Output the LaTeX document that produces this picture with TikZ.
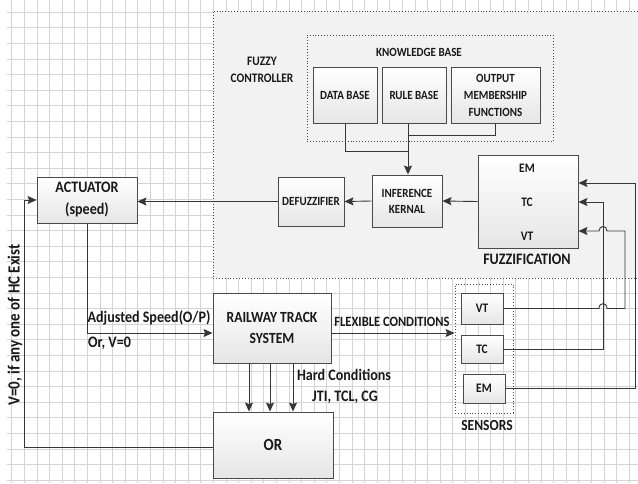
\documentclass[tikz,border=0pt]{standalone}
\usepackage{fontspec}
\setmainfont{Carlito}[FakeStretch=0.88]
\usetikzlibrary{arrows.meta}
\definecolor{ln}{HTML}{363636}
\definecolor{bd}{HTML}{4A4A4A}
\definecolor{grd}{HTML}{D4D4D4}
\begin{document}
\begin{tikzpicture}[x=1pt,y=-1pt,
  box/.style={draw=bd, line width=0.9pt, top color=white, bottom color=black!10, align=center, inner sep=1pt, text=black!90, font=\bfseries\fontsize{12.5}{16}\selectfont},
  dotbox/.style={draw=bd, dotted, line width=0.9pt, inner sep=0pt},
  lbl/.style={font=\bfseries\fontsize{16}{18}\selectfont, inner sep=0pt, text=black!90},
  lbls/.style={font=\bfseries\fontsize{13}{17}\selectfont, inner sep=0pt, align=center, text=black!90},
  conn/.style={draw=ln, line width=0.9pt},
  arr/.style={conn, -{Stealth[length=9pt,width=8pt,inset=1.5pt]}}]
\useasboundingbox (0,0) rectangle (638,483);
\fill[white] (0,0) rectangle (638,483);
% grid
\foreach \i in {0,...,50} {\draw[grd, line width=0.5pt] ({11.7+12.6*\i},0) -- ({11.7+12.6*\i},483);}
\foreach \j in {0,...,31} {\draw[grd, line width=0.5pt] (7,{12+15.6*\j}) -- (638,{12+15.6*\j});}
% fuzzy controller region
\node[dotbox, fill=black!5, minimum width=427pt, minimum height=267pt] (fc) at (426.5,144.5) {};
\node[lbls] (fctext) at (262,70) {FUZZY\\CONTROLLER};
% knowledge base
\node[dotbox, minimum width=246pt, minimum height=106pt] (kb) at (430,88) {};
\node[lbls, font=\bfseries\fontsize{12.5}{15}\selectfont] (kbtext) at (419,52) {KNOWLEDGE BASE};
\node[box, minimum width=64pt, minimum height=56pt] (db) at (345,95) {DATA BASE};
\node[box, minimum width=64pt, minimum height=56pt] (rb) at (414,95) {RULE BASE};
\node[box, minimum width=89pt, minimum height=56pt, font=\bfseries\fontsize{12.5}{17}\selectfont] (omf) at (495.5,95) {OUTPUT\\MEMBERSHIP\\FUNCTIONS};
% inference, defuzzifier, fuzzification
\node[box, minimum width=70pt, minimum height=52pt] (ik) at (407,201) {INFERENCE\\KERNAL};
\node[box, minimum width=66pt, minimum height=49pt] (dfz) at (311,201.5) {DEFUZZIFIER};
\node[box, minimum width=100pt, minimum height=93pt] (fz) at (528,201.5) {};
\node[lbls] (fzem) at (527,168) {EM};
\node[lbls] (fztc) at (527,202) {TC};
\node[lbls] (fzvt) at (527,236) {VT};
\node[lbl] (fztext) at (527,259) {FUZZIFICATION};
% actuator
\node[box, minimum width=100pt, minimum height=46pt, font=\bfseries\fontsize{16}{22}\selectfont] (act) at (87,200) {ACTUATOR\\(speed)};
% railway
\node[box, minimum width=118pt, minimum height=70pt, font=\bfseries\fontsize{15.5}{21}\selectfont] (rts) at (272,328) {RAILWAY TRACK\\SYSTEM};
% sensors
\node[dotbox, minimum width=58pt, minimum height=129pt] (sens) at (484,348.5) {};
\node[box, minimum width=42pt, minimum height=31pt, font=\bfseries\fontsize{13}{15}\selectfont] (svt) at (482,308.5) {VT};
\node[box, minimum width=42pt, minimum height=28pt, font=\bfseries\fontsize{13}{15}\selectfont] (stc) at (482,349) {TC};
\node[box, minimum width=42pt, minimum height=29pt, font=\bfseries\fontsize{13}{15}\selectfont] (sem) at (484,388.5) {EM};
\node[lbl, font=\bfseries\fontsize{15.4}{18}\selectfont] (senstext) at (487,425) {SENSORS};
% OR
\node[box, minimum width=120pt, minimum height=66pt, font=\bfseries\fontsize{17}{19}\selectfont] (or) at (273,445) {OR};
% coordinates
\coordinate (j1) at (408,151);
\coordinate (j2) at (408,135);
\coordinate (a1) at (87,333);
\coordinate (fb) at (24,447);
\coordinate (h1) at (249,0);
\coordinate (h2) at (270,0);
\coordinate (h3) at (293,0);
% knowledge base connectors
\draw[conn] (db.south) |- (j1);
\draw[conn] (omf.south) |- (j2);
\draw[arr] (rb.south -| j1) -- (ik.north -| j1);
% chain
\draw[arr] (fz.west) -- (ik.east);
\draw[arr] (ik.west) -- (dfz.east);
\draw[arr] (dfz.west) -- (act.east |- dfz.west);
% actuator to railway
\draw[arr] (act.south) |- (rts.west |- a1);
\node[lbl, anchor=base] (adj) at (149,322) {Adjusted Speed(O/P)};
\node[lbl, anchor=base west] (orv) at (88,347) {Or, V=0};
% flexible conditions
\draw[arr] (rts.east |- a1) -- (sens.west |- a1);
\node[lbl, font=\bfseries\fontsize{14.2}{16}\selectfont, anchor=base] (flex) at (392,326) {FLEXIBLE CONDITIONS};
% hard conditions
\draw[arr] (rts.south -| h1) -- (or.north -| h1);
\draw[arr] (rts.south -| h2) -- (or.north -| h2);
\draw[arr] (rts.south -| h3) -- (or.north -| h3);
\node[lbl, anchor=base] (hc1) at (344,380) {Hard Conditions};
\node[lbl, anchor=base] (hc2) at (345,401) {JTI, TCL, CG};
% feedback
\draw[arr] (or.west |- fb) -- (fb) |- (act.west);
\node[lbl, rotate=90, font=\bfseries\fontsize{17}{19}\selectfont] (fbtext) at (15,325) {V=0, if any one of HC Exist};
% sensors to fuzzification
\draw[arr] (stc.east) -- (603,349) -- (603,202) -- (fz.east |- fztc);
\draw[arr] (sem.east) -- (635,388.5) -- (635,183) -- (fz.east |- 0,183);
\draw[arr] (svt.east) -- (599,308.5) .. controls (599,302) and (607,302) .. (607,308.5) -- (625,308.5) -- (625,231) -- (607,231) .. controls (607,225) and (599,225) .. (599,231) -- (fz.east |- 0,231);
\end{tikzpicture}
\end{document}
